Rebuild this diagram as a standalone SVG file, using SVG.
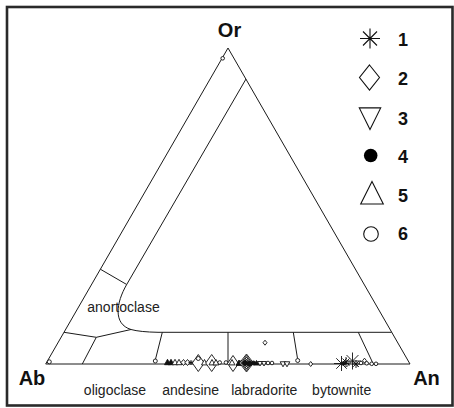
<svg xmlns="http://www.w3.org/2000/svg" width="454" height="408" viewBox="0 0 454 408">
<style>
.ln{fill:none;stroke:#1a1a1a;stroke-width:1}
.mk{fill:#fff;stroke:#111;stroke-width:0.9}
.mkf{fill:#111;stroke:#111;stroke-width:0.9}
.lg{fill:#fff;stroke:#111;stroke-width:1.1}
.ax{font-family:"Liberation Sans",Arial,sans-serif;font-weight:bold;font-size:20px;fill:#111}
.num{font-family:"Liberation Sans",Arial,sans-serif;font-weight:bold;font-size:18px;fill:#111}
.fld{font-family:"Liberation Sans",Arial,sans-serif;font-size:14px;fill:#222}
</style>
<defs>
<path id="dia" d="M0,-1 L1,0 L0,1 L-1,0Z" vector-effect="non-scaling-stroke"/>
<path id="tu" d="M0,-1 L1,0.8 L-1,0.8Z" vector-effect="non-scaling-stroke"/>
<path id="td" d="M-1,-0.8 L1,-0.8 L0,1Z" vector-effect="non-scaling-stroke"/>
<path id="ast" d="M-1,0H1M0,-1V1M-0.7,-0.7L0.7,0.7M-0.7,0.7L0.7,-0.7" vector-effect="non-scaling-stroke"/>
</defs>
<rect width="454" height="408" fill="#fff"/>
<rect x="7" y="7" width="445.5" height="398.5" fill="none" stroke="#2a2a2a" stroke-width="2.6"/>

<g id="connectors">
<polygon class="ln" points="45.7,364 228,48 410,364"/>
<path class="ln" d="M246,79 L126.7,284.5 C116,303 113,324 131,329.5 Q140,332 158,332.3 L391.6,332.3"/>
<path class="ln" d="M100.5,269.3 L126.7,284.5"/>
<path class="ln" d="M64,332.3 L96.3,337.3 L131,329.5 M96.3,337.3 L82.3,364"/>
<path class="ln" d="M162.3,332.3 L155.3,360 M228,332.3 L228,364 M293.3,332.3 L297.5,358.5 M358.3,332.3 L373.3,364"/>
</g>

<g id="vertex-labels">
<text class="ax" x="229.5" y="36.5" text-anchor="middle" font-size="19">Or</text>
<text class="ax" x="32" y="385" text-anchor="middle">Ab</text>
<text class="ax" x="426.5" y="385" text-anchor="middle">An</text>
</g>

<g id="field-labels">
<text class="fld" x="123.5" y="311.5" text-anchor="middle">anortoclase</text>
<text class="fld" x="115" y="395" text-anchor="middle">oligoclase</text>
<text class="fld" x="190.7" y="395" text-anchor="middle">andesine</text>
<text class="fld" x="264.3" y="395" text-anchor="middle">labradorite</text>
<text class="fld" x="341.7" y="395" text-anchor="middle">bytownite</text>
</g>

<g id="legend">
<use href="#ast" class="lg" transform="translate(370,38.5) scale(10)"/>
<use href="#dia" class="lg" transform="translate(369.5,77.5) scale(10,12.5)"/>
<use href="#td" class="lg" transform="translate(370,117.5) scale(10.7,12)"/>
<circle cx="370.7" cy="155.5" r="6.8" fill="#000"/>
<use href="#tu" class="lg" transform="translate(372,194) scale(11.3,12.5)"/>
<circle cx="371" cy="234" r="7.3" class="lg"/>
<text class="num" x="398" y="46">1</text>
<text class="num" x="398" y="85">2</text>
<text class="num" x="398" y="125">3</text>
<text class="num" x="398" y="163">4</text>
<text class="num" x="398" y="201.5">5</text>
<text class="num" x="398" y="240">6</text>
</g>

<g id="data-points">
<circle class="mk" cx="222.7" cy="58.3" r="1.8"/>
<circle class="mk" cx="49.3" cy="361.8" r="2"/>
<circle class="mk" cx="155.3" cy="361" r="2"/>
<use href="#tu" class="mkf" transform="translate(167.5,362.3) scale(3,3)"/>
<use href="#tu" class="mkf" transform="translate(171,362.3) scale(3,3)"/>
<use href="#tu" class="mk" transform="translate(175,362.3) scale(3,3)"/>
<use href="#tu" class="mk" transform="translate(179,362.3) scale(3,3)"/>
<use href="#dia" class="mk" transform="translate(183.5,362.5) scale(2.5,3)"/>
<use href="#dia" class="mk" transform="translate(187.5,362.5) scale(2.5,3)"/>
<use href="#ast" class="mk" transform="translate(191,362.5) scale(2.5)"/>
<use href="#dia" class="mk" transform="translate(198.3,363) scale(6,8.5)"/>
<circle class="mk" cx="198.3" cy="358.5" r="2"/>
<use href="#tu" class="mk" transform="translate(204.5,362.5) scale(3,3)"/>
<use href="#dia" class="mk" transform="translate(211.7,363) scale(6,8.5)"/>
<use href="#tu" class="mk" transform="translate(212,362.5) scale(3,3)"/>
<use href="#tu" class="mk" transform="translate(216,362.5) scale(3,3)"/>
<circle class="mk" cx="219.7" cy="362.5" r="1.8"/>
<circle class="mk" cx="226" cy="362.5" r="1.8"/>
<use href="#dia" class="mk" transform="translate(233,363.5) scale(5.5,8)"/>
<use href="#tu" class="mk" transform="translate(232,362.5) scale(3,3)"/>
<use href="#tu" class="mkf" transform="translate(239,363) scale(3,3)"/>
<circle class="mkf" cx="242" cy="363" r="2.5"/>
<use href="#dia" class="mk" transform="translate(246.5,363) scale(7,9)"/>
<use href="#dia" class="mk" transform="translate(246.5,363) scale(5.5,7.5)"/>
<use href="#dia" class="mk" transform="translate(246.5,363) scale(4,6)"/>
<use href="#dia" class="mk" transform="translate(246.5,363) scale(2.5,4)"/>
<circle class="mkf" cx="245" cy="363" r="2.5"/>
<circle class="mkf" cx="249.5" cy="363.5" r="2.5"/>
<circle class="mkf" cx="253.5" cy="363" r="2"/>
<use href="#tu" class="mkf" transform="translate(256.5,363) scale(2.5,2.5)"/>
<use href="#td" class="mk" transform="translate(260,363.5) scale(2.5,2.5)"/>
<use href="#td" class="mk" transform="translate(264,363.5) scale(2.5,2.5)"/>
<circle class="mk" cx="268" cy="363" r="1.8"/>
<circle class="mk" cx="272" cy="363" r="1.8"/>
<use href="#dia" class="mk" transform="translate(265,342.7) scale(2,2.5)"/>
<use href="#td" class="mk" transform="translate(283,364) scale(2.8,2.8)"/>
<use href="#td" class="mk" transform="translate(287,364) scale(2.8,2.8)"/>
<circle class="mk" cx="297.7" cy="360.5" r="2"/>
<use href="#dia" class="mk" transform="translate(310.7,364) scale(2,2.5)"/>
<use href="#ast" class="mk" transform="translate(341.5,363.5) scale(7.5)"/>
<use href="#ast" class="mk" transform="translate(346,362) scale(5)"/>
<use href="#ast" class="mk" transform="translate(352.5,361) scale(8.5)"/>
<use href="#ast" class="mk" transform="translate(356,364) scale(4)"/>
<circle class="mkf" cx="344" cy="363.5" r="1.5"/>
<use href="#dia" class="mk" transform="translate(364.5,360.7) scale(2,2.5)"/>
<circle class="mk" cx="361" cy="363" r="1.8"/>
<circle class="mk" cx="366.7" cy="363.3" r="1.8"/>
<circle class="mk" cx="371.7" cy="363.8" r="1.8"/>
<circle class="mk" cx="376" cy="363.8" r="1.8"/>
</g>
</svg>
